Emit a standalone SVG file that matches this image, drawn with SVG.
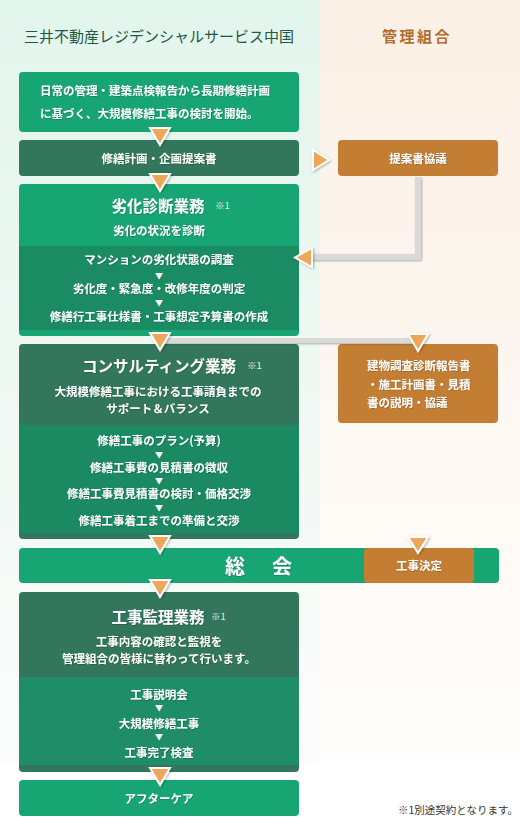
<svg xmlns="http://www.w3.org/2000/svg" width="520" height="840" viewBox="0 0 520 840">
<defs>
<linearGradient id="bgL" x1="0" y1="0" x2="0" y2="1"><stop offset="0" stop-color="#e2f5ed"/><stop offset="1" stop-color="#fbfcfb"/></linearGradient>
<linearGradient id="bgR" x1="0" y1="0" x2="0" y2="1"><stop offset="0" stop-color="#fbf0e5"/><stop offset="1" stop-color="#fffefd"/></linearGradient>
<filter id="sh" x="-30%" y="-30%" width="160%" height="160%"><feDropShadow dx="1" dy="1" stdDeviation="1" flood-color="#000" flood-opacity="0.3"/></filter>
<filter id="ts" x="-5%" y="-20%" width="110%" height="140%"><feDropShadow dx="0.5" dy="0.5" stdDeviation="0.4" flood-color="#000" flood-opacity="0.35"/></filter>
</defs>
<style>
text{font-family:"Noto Sans CJK JP","Noto Sans CJK SC",sans-serif;}
.hd1{font-size:15px;fill:#1d5a43;}
.hd2{font-size:15px;fill:#b26d2c;letter-spacing:2.5px;font-weight:700;}
.w{font-size:11.5px;fill:#fff;font-weight:700;dominant-baseline:central;filter:url(#ts);}
.c{text-anchor:middle;}
.ttl{font-size:15.5px;fill:#fff;font-weight:700;dominant-baseline:central;text-anchor:middle;filter:url(#ts);}
.note{font-size:9.5px;fill:#e4f2ec;dominant-baseline:central;}
.ar{font-size:8px;fill:#fff;dominant-baseline:central;text-anchor:middle;}
.g{fill:#17a673;}
.dg{fill:#32775b;}
.lg{fill:#1b8b63;}
.or{fill:#c47e34;}
.tri{fill:#eea659;stroke:#fff;stroke-width:2;stroke-linejoin:miter;filter:url(#sh);}
.line{fill:none;stroke:#d9d9d9;stroke-width:6;filter:url(#sh);}
</style>
<rect x="0" y="0" width="520" height="840" fill="#ffffff"/>
<rect x="0" y="0" width="320" height="762" fill="url(#bgL)"/>
<rect x="320" y="0" width="200" height="762" fill="url(#bgR)"/>

<g id="header">
<text class="hd1" x="159" y="35" text-anchor="middle" dominant-baseline="central">三井不動産レジデンシャルサービス中国</text>
<text class="hd2" x="417" y="35" text-anchor="middle" dominant-baseline="central">管理組合</text>
</g>

<g id="start">
<rect class="g" x="19" y="72" width="280" height="60" rx="4"/>
<text class="w" x="40" y="90">日常の管理・建築点検報告から長期修繕計画</text>
<text class="w" x="40" y="113">に基づく、大規模修繕工事の検討を開始。</text>
</g>

<g id="plan">
<rect class="dg" x="19" y="140" width="280" height="36" rx="4"/>
<text class="w c" x="159" y="158">修繕計画・企画提案書</text>
</g>

<g id="proposal">
<rect class="or" x="338" y="140" width="160" height="36" rx="4"/>
<text class="w c" x="418" y="158">提案書協議</text>
</g>

<g id="diagnosis">
<rect class="g" x="19" y="184" width="280" height="152" rx="4"/>
<rect class="lg" x="19" y="246" width="280" height="84"/>
<text class="ttl" x="158" y="205">劣化診断業務</text>
<text class="note" x="215" y="205">※1</text>
<text class="w c" x="159" y="230">劣化の状況を診断</text>
<text class="w c" x="159" y="259">マンションの劣化状態の調査</text>
<text class="ar" x="159" y="275">▼</text>
<text class="w c" x="159" y="288">劣化度・緊急度・改修年度の判定</text>
<text class="ar" x="159" y="302">▼</text>
<text class="w c" x="159" y="316">修繕行工事仕様書・工事想定予算書の作成</text>
</g>

<g id="consulting">
<rect class="dg" x="19" y="344" width="280" height="195" rx="4"/>
<rect class="lg" x="19" y="425" width="280" height="108" style="fill:#1b8a62"/>
<text class="ttl" x="159" y="365">コンサルティング業務</text>
<text class="note" x="247" y="365">※1</text>
<text class="w c" x="158" y="391">大規模修繕工事における工事請負までの</text>
<text class="w c" x="158" y="408">サポート＆バランス</text>
<text class="w c" x="159" y="440">修繕工事のプラン(予算)</text>
<text class="ar" x="159" y="454">▼</text>
<text class="w c" x="159" y="467">修繕工事費の見積書の徴収</text>
<text class="ar" x="159" y="480">▼</text>
<text class="w c" x="159" y="493">修繕工事費見積書の検討・価格交渉</text>
<text class="ar" x="159" y="507">▼</text>
<text class="w c" x="159" y="520">修繕工事着工までの準備と交渉</text>
</g>

<g id="explain">
<rect class="or" x="338" y="344" width="160" height="79" rx="4"/>
<text class="w" x="367" y="365">建物調査診断報告書</text>
<text class="w" x="367" y="384">・施工計画書・見積</text>
<text class="w" x="367" y="402">書の説明・協議</text>
</g>

<g id="general-meeting">
<rect class="g" x="19" y="548" width="480" height="35" rx="4"/>
<text class="w" x="225" y="565" style="font-size:20px;letter-spacing:3.5px">総　会</text>
</g>

<g id="decision">
<rect class="or" x="364" y="548" width="110" height="35" rx="4"/>
<text class="w c" x="419" y="565">工事決定</text>
</g>

<g id="supervision">
<rect class="dg" x="19" y="592" width="280" height="180" rx="4"/>
<rect class="lg" x="19" y="677" width="280" height="88" style="fill:#1f8e68"/>
<text class="ttl" x="158" y="616">工事監理業務</text>
<text class="note" x="211" y="616">※1</text>
<text class="w c" x="159" y="641">工事内容の確認と監視を</text>
<text class="w c" x="159" y="658">管理組合の皆様に替わって行います。</text>
<text class="w c" x="159" y="694">工事説明会</text>
<text class="ar" x="159" y="707">▼</text>
<text class="w c" x="159" y="723">大規模修繕工事</text>
<text class="ar" x="159" y="736">▼</text>
<text class="w c" x="159" y="752">工事完了検査</text>
</g>

<g id="aftercare">
<rect class="g" x="19" y="780" width="280" height="36" rx="4"/>
<text class="w c" x="159" y="798">アフターケア</text>
</g>

<g id="footnote">
<text x="518" y="809" text-anchor="end" dominant-baseline="central" style="font-size:10.5px;fill:#333">※1別途契約となります。</text>
</g>

<g id="connectors">
<path class="line" d="M418,177 L418,257 L310,257"/>
<path class="line" d="M163,340 L418,340 L418,344"/>
<path class="line" d="M418,424 L418,540"/>
<path class="tri" d="M150,128 L170,128 L160,145 Z"/>
<path class="tri" d="M150,174 L170,174 L160,191 Z"/>
<path class="tri" d="M313,150 L313,170 L329,160 Z"/>
<path class="tri" d="M312,248 L312,267 L295,257.5 Z"/>
<path class="tri" d="M150,333 L170,333 L160,350 Z"/>
<path class="tri" d="M408,334 L428,334 L418,351 Z"/>
<path class="tri" d="M150,536 L170,536 L160,553 Z"/>
<path class="tri" d="M408,537 L428,537 L418,553 Z"/>
<path class="tri" d="M150,580 L170,580 L160,597 Z"/>
<path class="tri" d="M150,768 L170,768 L160,785 Z"/>
</g>
</svg>
